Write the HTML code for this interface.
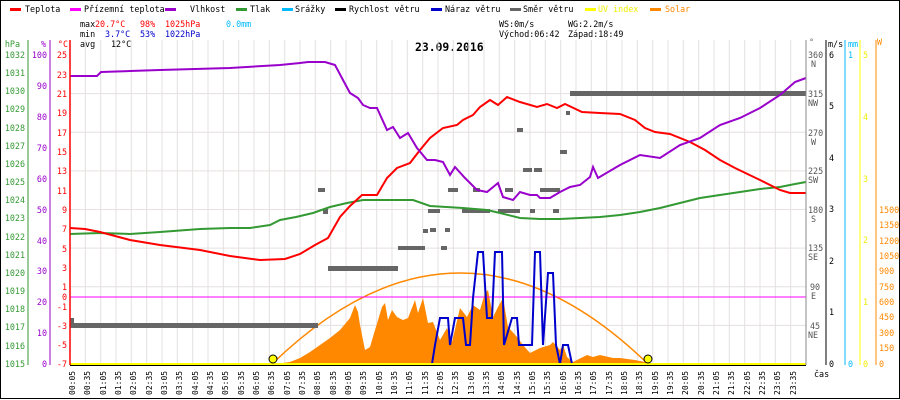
<!DOCTYPE html>
<html><head><meta charset="utf-8"><style>
html,body{margin:0;padding:0;background:#fff}
svg{display:block;font-family:"DejaVu Sans Mono","Liberation Mono",monospace;font-size:8.4px}
</style></head><body>
<svg width="900" height="400" viewBox="0 0 900 400" xmlns="http://www.w3.org/2000/svg">
<rect x="0.5" y="0.5" width="899" height="398" fill="#fff" stroke="#000"/>
<!-- legend -->
<g font-size="8.4">
<rect x="10" y="8" width="11" height="3" fill="#f00"/><text x="25" y="12">Teplota</text>
<rect x="70" y="8" width="11" height="3" fill="#f0f"/><text x="84" y="12">Přízemní teplota</text>
<rect x="165" y="8" width="11" height="3" fill="#90c"/><text x="190" y="12">Vlhkost</text>
<rect x="236" y="8" width="11" height="3" fill="#393"/><text x="250" y="12">Tlak</text>
<rect x="282" y="8" width="11" height="3" fill="#0bf"/><text x="295" y="12">Srážky</text>
<rect x="335" y="8" width="11" height="3" fill="#000"/><text x="349" y="12">Rychlost větru</text>
<rect x="431" y="8" width="11" height="3" fill="#00c"/><text x="445" y="12">Náraz větru</text>
<rect x="510" y="8" width="11" height="3" fill="#666"/><text x="523" y="12">Směr větru</text>
<rect x="585" y="8" width="11" height="3" fill="#ff0"/><text x="598" y="12" fill="#ee0">UV index</text>
<rect x="650" y="8" width="11" height="3" fill="#f80"/><text x="665" y="12" fill="#f80">Solar</text>
</g>
<g font-size="8.4">
<text x="80" y="27">max</text><text x="95" y="27" fill="#f00">20.7°C</text><text x="140" y="27" fill="#f00">98%</text><text x="165" y="27" fill="#f00">1025hPa</text><text x="226" y="27" fill="#0bf">0.0mm</text>
<text x="80" y="37">min</text><text x="105" y="37" fill="#00c">3.7°C</text><text x="140" y="37" fill="#00c">53%</text><text x="165" y="37" fill="#00c">1022hPa</text>
<text x="80" y="47">avg</text><text x="111" y="47">12°C</text>
<text x="499" y="27">WS:0m/s</text><text x="568" y="27">WG:2.2m/s</text>
<text x="499" y="37">Východ:06:42</text><text x="568" y="37">Západ:18:49</text>
</g>
<text x="415" y="51" font-size="11.4" font-weight="bold">23.09.2016</text>
<!-- grid -->
<g stroke="#e6e0e0" stroke-width="1">
<path d="M70 93.6H806M70 132.3H806M70 170.9H806M70 209.5H806M70 248.1H806M70 286.8H806M70 325.4H806"/>
<path d="M85.3 40V364M100.7 40V364M116 40V364M131.3 40V364M146.7 40V364M162 40V364M177.3 40V364M192.7 40V364M208 40V364M223.3 40V364M238.7 40V364M254 40V364M269.3 40V364M284.7 40V364M300 40V364M315.3 40V364M330.7 40V364M346 40V364M361.3 40V364M376.7 40V364M392 40V364M407.3 40V364M422.7 40V364M438 40V364M453.3 40V364M468.7 40V364M484 40V364M499.3 40V364M514.7 40V364M530 40V364M545.3 40V364M560.7 40V364M576 40V364M591.3 40V364M606.7 40V364M622 40V364M637.3 40V364M652.7 40V364M668 40V364M683.3 40V364M698.7 40V364M714 40V364M729.3 40V364M744.7 40V364M760 40V364M775.3 40V364M790.7 40V364"/>
</g>
<!-- solar area -->
<polygon fill="#f80" points="275,364 290,362 300,358 310,352 320,345 330,338 340,330 350,318 355,305 358,312 360,325 365,350 370,347 375,330 382,307 385,303 388,320 392,310 397,317 403,320 408,318 415,300 418,313 423,298 428,323 433,322 440,340 447,328 452,342 460,308 467,317 473,305 480,310 485,293 488,290 493,317 498,307 503,298 508,327 517,337 523,345 530,353 540,348 550,345 553,342 560,350 563,345 567,357 573,362 587,355 593,357 600,355 613,358 620,358 635,360 650,363 650,364"/>
<path d="M272 364 Q460 182 648 364" fill="none" stroke="#f80" stroke-width="1.5"/>
<line x1="70" y1="297" x2="806" y2="297" stroke="#f0f" stroke-width="1"/>
<!-- direction -->
<g fill="#666">
<rect x="70" y="323" width="248" height="5"/><rect x="70" y="318" width="4" height="5"/>
<rect x="318" y="188" width="7" height="4"/><rect x="323" y="209" width="5" height="5"/>
<rect x="328" y="266" width="70" height="5"/><rect x="398" y="246" width="27" height="4"/>
<rect x="423" y="229" width="5" height="4"/><rect x="428" y="209" width="12" height="4"/>
<rect x="441" y="246" width="6" height="4"/><rect x="448" y="188" width="10" height="4"/>
<rect x="462" y="209" width="28" height="4"/><rect x="473" y="188" width="7" height="4"/>
<rect x="498" y="209" width="22" height="4"/><rect x="505" y="188" width="8" height="4"/>
<rect x="517" y="128" width="6" height="4"/><rect x="523" y="168" width="9" height="4"/><rect x="534" y="168" width="8" height="4"/>
<rect x="530" y="209" width="5" height="4"/><rect x="540" y="188" width="20" height="4"/>
<rect x="553" y="209" width="6" height="4"/><rect x="560" y="150" width="7" height="4"/>
<rect x="566" y="111" width="4" height="4"/><rect x="570" y="91" width="236" height="5"/>
<rect x="445" y="228" width="5" height="4"/><rect x="430" y="228" width="6" height="4"/>
</g>
<!-- pressure -->
<polyline fill="none" stroke="#393" stroke-width="2" points="70,234 100,233 130,234 160,232 200,229 230,228 250,228 270,225 280,220 296,217 313,213 330,207 347,203 363,200 380,200 413,200 430,206 463,208 487,210 500,213 520,218 540,219 560,219 580,218 600,217 620,215 640,212 660,208 680,203 700,198 720,195 740,192 760,189 780,187 795,184 806,182"/>
<!-- temperature -->
<polyline fill="none" stroke="#f00" stroke-width="2" points="70,228 85,229 100,232 130,240 160,245 200,250 230,256 260,260 285,259 300,254 315,245 328,238 340,217 350,206 362,195 377,195 387,178 397,168 410,163 420,150 430,138 443,128 457,125 463,120 473,115 480,107 490,100 498,105 507,97 520,102 537,107 547,104 557,108 565,104 582,112 600,113 620,114 635,120 645,128 655,132 670,134 690,142 705,150 720,160 735,168 760,180 780,190 790,193 806,193"/>
<!-- humidity -->
<polyline fill="none" stroke="#90c" stroke-width="2" points="70,76 97,76 101,72 130,71 160,70 230,68 280,65 300,63 308,62 325,62 335,65 343,80 350,93 358,98 363,105 370,108 377,108 387,130 393,127 400,138 408,133 417,148 427,160 435,160 443,162 450,175 455,167 465,178 477,190 487,192 498,183 503,197 513,200 520,192 530,195 537,195 540,198 550,198 560,192 570,187 580,185 590,177 593,167 598,178 620,165 640,155 660,158 680,145 700,138 720,125 740,118 760,108 780,95 795,82 806,78"/>
<!-- gust -->
<polyline fill="none" stroke="#00c" stroke-width="2" points="70,364 432,364 435,345 440,318 448,318 450,345 455,318 463,318 466,345 470,345 473,298 478,252 483,252 487,318 492,318 495,252 502,252 504,345 512,318 517,318 519,345 532,345 535,252 540,252 543,345 548,273 553,273 556,345 560,364 563,345 568,345 572,364 806,364"/>
<line x1="70" y1="364" x2="806" y2="364" stroke="#ff0" stroke-width="2"/>
<line x1="70" y1="365.5" x2="806" y2="365.5" stroke="#000" stroke-width="1"/>
<circle cx="273" cy="359" r="4" fill="#ff0" stroke="#000"/>
<circle cx="648" cy="359" r="4" fill="#ff0" stroke="#000"/>
<!-- left axes -->
<line x1="28" y1="40" x2="28" y2="365" stroke="#393"/>
<line x1="50" y1="40" x2="50" y2="365" stroke="#90c"/>
<line x1="70" y1="40" x2="70" y2="365" stroke="#f00" stroke-width="1.5"/>
<g font-size="8.4" text-anchor="end">
<text x="20" y="47" fill="#393">hPa</text><text x="46" y="47" fill="#90c">%</text><text x="68" y="47" fill="#f00">°C</text>
<g fill="#393">
<text x="25" y="58">1032</text><text x="25" y="76">1031</text><text x="25" y="94">1030</text><text x="25" y="112">1029</text><text x="25" y="131">1028</text><text x="25" y="149">1027</text><text x="25" y="167">1026</text><text x="25" y="185">1025</text><text x="25" y="203">1024</text><text x="25" y="221">1023</text><text x="25" y="240">1022</text><text x="25" y="258">1021</text><text x="25" y="276">1020</text><text x="25" y="294">1019</text><text x="25" y="312">1018</text><text x="25" y="330">1017</text><text x="25" y="349">1016</text><text x="25" y="367">1015</text>
</g>
<g fill="#90c">
<text x="47" y="58">100</text><text x="47" y="89">90</text><text x="47" y="120">80</text><text x="47" y="151">70</text><text x="47" y="182">60</text><text x="47" y="213">50</text><text x="47" y="244">40</text><text x="47" y="274">30</text><text x="47" y="305">20</text><text x="47" y="336">10</text><text x="47" y="367">0</text>
</g>
<g fill="#f00">
<text x="67" y="58">25</text><text x="67" y="78">23</text><text x="67" y="97">21</text><text x="67" y="116">19</text><text x="67" y="136">17</text><text x="67" y="155">15</text><text x="67" y="174">13</text><text x="67" y="194">11</text><text x="67" y="213">9</text><text x="67" y="232">7</text><text x="67" y="252">5</text><text x="67" y="271">3</text><text x="67" y="290">1</text><text x="67" y="300">0</text><text x="67" y="310">-1</text><text x="67" y="329">-3</text><text x="67" y="348">-5</text><text x="67" y="367">-7</text>
</g>
</g>
<!-- right axes -->
<line x1="806" y1="40" x2="806" y2="365" stroke="#888"/>
<line x1="826" y1="40" x2="826" y2="365" stroke="#000"/>
<line x1="845" y1="40" x2="845" y2="365" stroke="#0bf"/>
<line x1="860" y1="40" x2="860" y2="365" stroke="#ff0"/>
<line x1="876" y1="40" x2="876" y2="365" stroke="#f80"/>
<g font-size="8.4">
<text x="809" y="45" fill="#666">°</text><text x="828" y="47">m/s</text><text x="848" y="47" fill="#0bf">mm</text><text x="877" y="45" fill="#f80">W</text>
<g fill="#555">
<text x="808" y="58">360</text><text x="811" y="67">N</text>
<text x="808" y="97">315</text><text x="808" y="106">NW</text>
<text x="808" y="136">270</text><text x="811" y="145">W</text>
<text x="808" y="174">225</text><text x="808" y="183">SW</text>
<text x="808" y="213">180</text><text x="811" y="222">S</text>
<text x="808" y="251">135</text><text x="808" y="260">SE</text>
<text x="810" y="290">90</text><text x="811" y="299">E</text>
<text x="810" y="329">45</text><text x="808" y="338">NE</text>
</g>
<g fill="#000"><text x="829" y="58">6</text><text x="829" y="109">5</text><text x="829" y="161">4</text><text x="829" y="212">3</text><text x="829" y="264">2</text><text x="829" y="315">1</text><text x="829" y="367">0</text></g>
<g fill="#0bf"><text x="848" y="58">1</text><text x="848" y="367">0</text></g>
<g fill="#ee0"><text x="863" y="58">5</text><text x="863" y="120">4</text><text x="863" y="182">3</text><text x="863" y="243">2</text><text x="863" y="305">1</text><text x="863" y="367">0</text></g>
<g fill="#f80"><text x="879" y="213">1500</text><text x="879" y="228">1350</text><text x="879" y="244">1200</text><text x="879" y="259">1050</text><text x="879" y="274">900</text><text x="879" y="290">750</text><text x="879" y="305">600</text><text x="879" y="320">450</text><text x="879" y="336">300</text><text x="879" y="351">150</text><text x="879" y="367">0</text></g>
<text x="814" y="377">čas</text>
</g>
<!-- time labels -->
<g font-size="8">
<text transform="translate(75,395) rotate(-90)">00:05</text><text transform="translate(90,395) rotate(-90)">00:35</text><text transform="translate(106,395) rotate(-90)">01:05</text><text transform="translate(121,395) rotate(-90)">01:35</text><text transform="translate(136,395) rotate(-90)">02:05</text><text transform="translate(152,395) rotate(-90)">02:35</text><text transform="translate(167,395) rotate(-90)">03:05</text><text transform="translate(182,395) rotate(-90)">03:35</text><text transform="translate(198,395) rotate(-90)">04:05</text><text transform="translate(213,395) rotate(-90)">04:35</text><text transform="translate(228,395) rotate(-90)">05:05</text><text transform="translate(244,395) rotate(-90)">05:35</text><text transform="translate(259,395) rotate(-90)">06:05</text><text transform="translate(274,395) rotate(-90)">06:35</text><text transform="translate(290,395) rotate(-90)">07:05</text><text transform="translate(305,395) rotate(-90)">07:35</text><text transform="translate(320,395) rotate(-90)">08:05</text><text transform="translate(336,395) rotate(-90)">08:35</text><text transform="translate(351,395) rotate(-90)">09:05</text><text transform="translate(366,395) rotate(-90)">09:35</text><text transform="translate(382,395) rotate(-90)">10:05</text><text transform="translate(397,395) rotate(-90)">10:35</text><text transform="translate(412,395) rotate(-90)">11:05</text><text transform="translate(428,395) rotate(-90)">11:35</text><text transform="translate(443,395) rotate(-90)">12:05</text><text transform="translate(458,395) rotate(-90)">12:35</text><text transform="translate(474,395) rotate(-90)">13:05</text><text transform="translate(489,395) rotate(-90)">13:35</text><text transform="translate(504,395) rotate(-90)">14:05</text><text transform="translate(520,395) rotate(-90)">14:35</text><text transform="translate(535,395) rotate(-90)">15:05</text><text transform="translate(550,395) rotate(-90)">15:35</text><text transform="translate(566,395) rotate(-90)">16:05</text><text transform="translate(581,395) rotate(-90)">16:35</text><text transform="translate(596,395) rotate(-90)">17:05</text><text transform="translate(612,395) rotate(-90)">17:35</text><text transform="translate(627,395) rotate(-90)">18:05</text><text transform="translate(642,395) rotate(-90)">18:35</text><text transform="translate(658,395) rotate(-90)">19:05</text><text transform="translate(673,395) rotate(-90)">19:35</text><text transform="translate(688,395) rotate(-90)">20:05</text><text transform="translate(704,395) rotate(-90)">20:35</text><text transform="translate(719,395) rotate(-90)">21:05</text><text transform="translate(734,395) rotate(-90)">21:35</text><text transform="translate(750,395) rotate(-90)">22:05</text><text transform="translate(765,395) rotate(-90)">22:35</text><text transform="translate(780,395) rotate(-90)">23:05</text><text transform="translate(796,395) rotate(-90)">23:35</text>
</g>
</svg>
</body></html>
